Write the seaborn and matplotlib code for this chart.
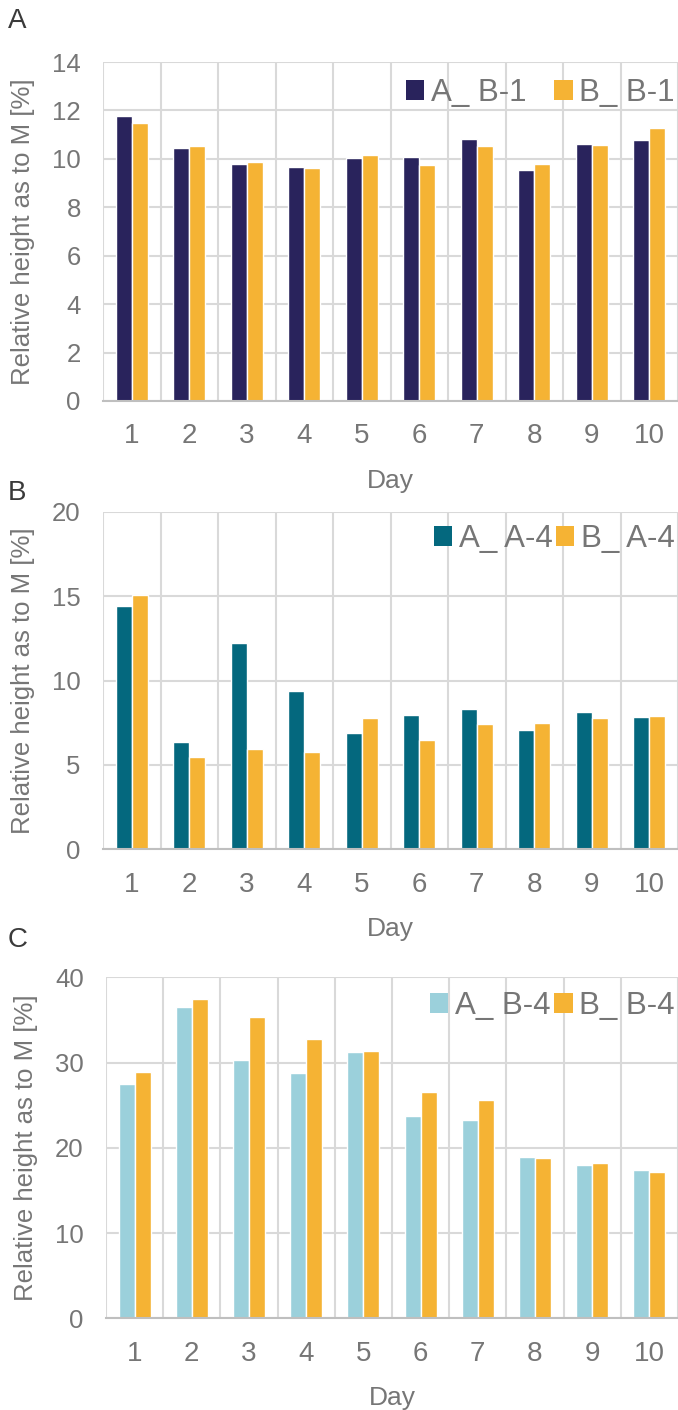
import matplotlib
matplotlib.use("Agg")
import matplotlib.pyplot as plt
import numpy as np
import pandas as pd
import seaborn as sns
from matplotlib.patches import Patch


DAYS = ["1", "2", "3", "4", "5", "6", "7", "8", "9", "10"]

# panel A
A_B1 = [11.75, 10.45, 9.77, 9.68, 10.03, 10.07, 10.83, 9.52, 10.60, 10.76]
B_B1 = [11.50, 10.54, 9.88, 9.64, 10.15, 9.74, 10.54, 9.79, 10.59, 11.27]
# panel B
A_A4 = [14.42, 6.38, 12.21, 9.37, 6.88, 7.94, 8.34, 7.05, 8.12, 7.84]
B_A4 = [15.06, 5.47, 5.93, 5.77, 7.77, 6.50, 7.43, 7.49, 7.78, 7.90]
# panel C
A_B4 = [27.45, 36.50, 30.30, 28.74, 31.24, 23.73, 23.26, 18.92, 17.98, 17.40]
B_B4 = [28.90, 37.45, 35.35, 32.73, 31.36, 26.58, 25.65, 18.77, 18.18, 17.13]

GREY = "#767676"
GRID = "#D9D9D9"
ORANGE = "#F5B334"


def long_frame(s1, s2, n1, n2) -> pd.DataFrame:
    return pd.DataFrame({
        "day": DAYS * 2,
        "value": list(s1) + list(s2),
        "series": [n1] * len(DAYS) + [n2] * len(DAYS),
    })


def draw_panel(fig, rect, letter, letter_y, s1, s2, names, colors, ymax, ystep,
               legend_y, colspacing):
    ax = fig.add_axes(rect)
    df = long_frame(s1, s2, names[0], names[1])
    sns.barplot(data=df, x="day", y="value", hue="series", order=DAYS,
                hue_order=names, palette=colors, width=0.56, gap=0,
                saturation=1, legend=False, ax=ax)

    ax.set_xlim(-0.5, len(DAYS) - 0.5)
    ax.set_ylim(0, ymax)
    ax.set_yticks(np.arange(0, ymax + 1, ystep))
    ax.set_xticks(np.arange(-0.5, len(DAYS), 1.0), minor=True)

    ax.grid(False)
    ax.grid(True, axis="y", which="major", color=GRID, lw=1.5)
    ax.grid(True, axis="x", which="minor", color=GRID, lw=1.5)
    ax.set_axisbelow(True)
    for side in ["top", "right", "left"]:
        ax.spines[side].set_visible(False)
    ax.spines["bottom"].set_color("#BFBFBF")
    ax.spines["bottom"].set_linewidth(1.5)

    ax.tick_params(axis="both", which="both", length=0, labelcolor=GREY)
    ax.tick_params(axis="y", pad=16, labelsize=18.5)
    ax.tick_params(axis="x", pad=16, labelsize=20)

    ax.set_xlabel("Day", fontsize=19, color=GREY, labelpad=14)
    ax.set_ylabel("Relative height as to M [%]", fontsize=18.5, color=GREY,
                  labelpad=12)

    handles = [Patch(facecolor=c, edgecolor="none") for c in colors]
    ax.legend(handles, names, loc="center right", bbox_to_anchor=(1.0, legend_y),
              ncol=2, frameon=False, fontsize=22.5, labelcolor=GREY,
              handlelength=0.58, handleheight=0.58, handletextpad=0.22,
              columnspacing=colspacing, borderaxespad=0, borderpad=0.1)

    fig.text(8 / 678, 1 - letter_y / 1410, letter, fontsize=20, color="#3A3A3A",
             va="center", ha="left")
    return ax


def main() -> None:
    sns.set_style("white")
    plt.rcParams["font.family"] = ["Liberation Sans", "DejaVu Sans"]

    fig = plt.figure(figsize=(6.78, 14.10), dpi=100)

    draw_panel(fig, [103 / 678, 1 - 401 / 1410, 575 / 678, 339 / 1410], "A", 21,
               A_B1, B_B1, ["A_ B-1", "B_ B-1"], ["#29235C", ORANGE],
               14, 2, 0.909, 0.9)
    draw_panel(fig, [103 / 678, 1 - 849.3 / 1410, 575 / 678, 337.6 / 1410], "B", 493,
               A_A4, B_A4, ["A_ A-4", "B_ A-4"], ["#04687E", ORANGE],
               20, 5, 0.919, 0.12)
    draw_panel(fig, [106 / 678, 1 - 1318.3 / 1410, 572 / 678, 341 / 1410], "C", 940,
               A_B4, B_B4, ["A_ B-4", "B_ B-4"], ["#9BD0DB", ORANGE],
               40, 10, 0.916, 0.12)

    fig.savefig("out.png", dpi=100)
    plt.close(fig)


if __name__ == "__main__":
    main()
